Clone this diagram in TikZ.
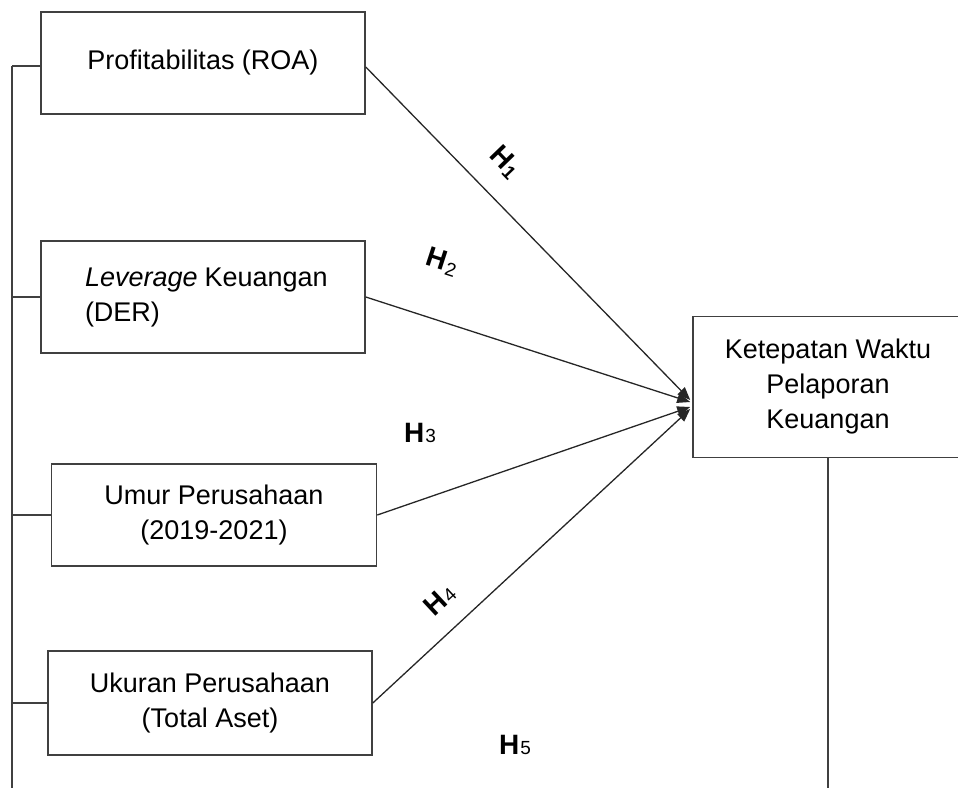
\documentclass[tikz,border=0pt]{standalone}
\usepackage{fontspec}
\setmainfont{Liberation Sans}
\usetikzlibrary{arrows.meta,calc}

\newcommand{\hlabel}[2]{H\kern1pt\raisebox{#2}{\mdseries\fontsize{19}{19}\selectfont #1}}

\tikzset{
    varbox/.style={draw=black!75,line width=1.6pt,minimum width=324pt,inner sep=0pt,align=center,font=\fontsize{27}{35}\selectfont},
    hyp/.style={font=\bfseries\fontsize{28}{30}\selectfont,inner sep=0pt},
    link/.style={draw=black!75,line width=1.5pt},
    effect/.style={draw=black!85,line width=1.3pt,-{Triangle[length=13pt,width=10pt]}}
}

\begin{document}
\begin{tikzpicture}[x=1pt,y=-1pt]
    \clip (0,0) rectangle (958,788);
    \node[varbox,minimum height=102pt] (roa) at (203,63) {Profitabilitas (ROA)};
    \node[varbox,minimum height=112pt,text width=236pt,align=left] (der) at (203,297)
        {\mbox{\textit{Leverage}\kern-2pt{} Keuangan}\\(DER)};
    \node[varbox,minimum width=325pt,minimum height=102pt] (umur) at (214,515) {Umur Perusahaan\\(2019-2021)};
    \node[varbox,minimum height=104pt] (ukuran) at (210,703) {Ukuran Perusahaan\\(Total Aset)};
    \node[varbox,minimum width=270pt,minimum height=141pt] (ktp) at (828,387) {Ketepatan Waktu\\Pelaporan\\Keuangan};

    \coordinate (bustop) at (12,66);
    \coordinate (busend) at (12,788);
    \draw[link] (bustop) -- (busend);
    \draw[link] (roa.west |- bustop) -- (bustop);
    \foreach \v in {der,umur,ukuran}
        \draw[link] (\v.west) -- (\v.west -| bustop);
    \draw[link] (ktp.south) -- (ktp.south |- busend);

    \draw[effect] ($(roa.east)+(0,4)$) -- ($(ktp.west)+(-2,13)$);
    \draw[effect] (der.east) -- ($(ktp.west)+(-2,15)$);
    \draw[effect] (umur.east) -- ($(ktp.west)+(-2,20)$);
    \draw[effect] (ukuran.east) -- ($(ktp.west)+(-2,22)$);

    \node[hyp,rotate=-46] (h1) at (505,162) {\hlabel{\bfseries 1}{-3pt}};
    \node[hyp,rotate=-18] (h2) at (442,262) {\hlabel{2}{-3pt}};
    \node[hyp] (h3) at (420,433) {\hlabel{3}{0pt}};
    \node[hyp,rotate=43] (h4) at (440,600) {\hlabel{4}{0pt}};
    \node[hyp] (h5) at (515,745) {\hlabel{5}{0pt}};
\end{tikzpicture}
\end{document}
